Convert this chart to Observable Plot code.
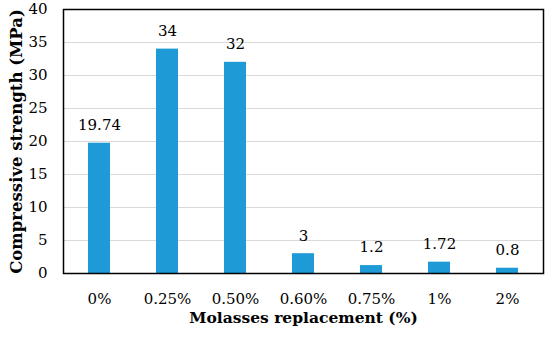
<!DOCTYPE html>
<html><head><meta charset="utf-8">
<script src="https://cdn.jsdelivr.net/npm/d3@7"></script>
<script src="https://cdn.jsdelivr.net/npm/@observablehq/plot@0.6"></script>
<style>body{margin:0;background:#fff}</style>
</head><body><div id="chart"></div>
<script>
const categories = ["0%", "0.25%", "0.50%", "0.60%", "0.75%", "1%", "2%"];
const strength = [19.74, 34, 32, 3, 1.2, 1.72, 0.8];
const labels = ["19.74", "34", "32", "3", "1.2", "1.72", "0.8"];
const yTicks = [0, 5, 10, 15, 20, 25, 30, 35, 40];
const xTitle = "Molasses replacement (%)";
const yTitle = "Compressive strength (MPa)";

const data = categories.map((c, i) => ({cat: c, v: strength[i], lab: labels[i]}));
const font = "DejaVu Serif";

const chart = Plot.plot({
  width: 550, height: 337,
  marginLeft: 63, marginRight: 7, marginTop: 9, marginBottom: 64,
  style: {fontFamily: font, fontSize: "15px", background: "#fff", color: "#000"},
  x: {domain: categories, paddingInner: 0.68, paddingOuter: 0.34, label: null},
  y: {domain: [0, 40], label: null},
  marks: [
    Plot.gridY(yTicks.filter(t => t > 0 && t < 40), {stroke: "#d9d9d9", strokeOpacity: 1, strokeWidth: 1}),
    Plot.barY(data, {x: "cat", y: "v", fill: "#1e9bd7"}),
    Plot.text(data, {x: "cat", y: "v", text: "lab", dy: -18, fontSize: 15, fill: "#000", fontFamily: font}),
    Plot.axisY({ticks: yTicks, tickSize: 0, tickPadding: 16, fontSize: 15, label: null, fontFamily: font}),
    Plot.axisX({tickSize: 0, tickPadding: 20, fontSize: 15, label: null, fontFamily: font}),
    Plot.frame({stroke: "#000", strokeWidth: 1.5}),
    Plot.text([xTitle], {frameAnchor: "bottom", dy: 49, fontSize: 15.5, fontWeight: "bold", fill: "#000", fontFamily: font}),
    Plot.text([yTitle], {frameAnchor: "left", rotate: -90, dx: -47, textAnchor: "middle", fontSize: 16.5, fontWeight: "bold", fill: "#000", fontFamily: font})
  ]
});
document.getElementById("chart").appendChild(chart);
</script>
</body></html>
